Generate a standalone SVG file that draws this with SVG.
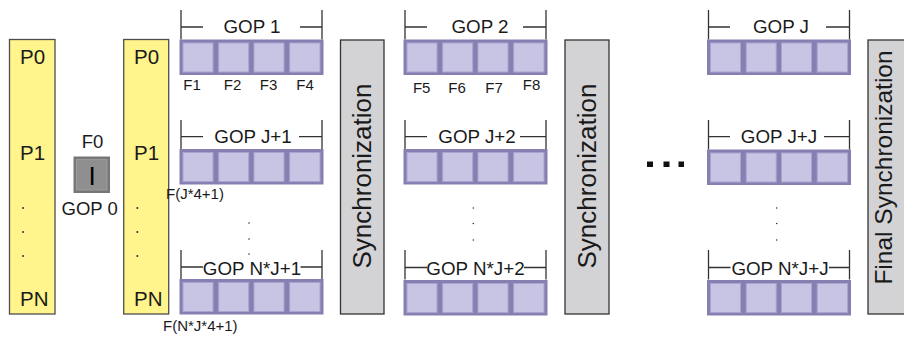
<svg xmlns="http://www.w3.org/2000/svg" width="904" height="339" viewBox="0 0 904 339">
  <style>
    text { font-family: "Liberation Sans", Arial, sans-serif; fill: #1a1a1a; }
    .proc { fill: #fff58c; stroke: #4d4d4d; stroke-width: 1.3; }
    .sync { fill: #d3d3d5; stroke: #333; stroke-width: 1.3; }
    .strip { fill: #867fb2; }
    .cell { fill: #c8c4e3; stroke: #a9a3cf; stroke-width: 1; }
    .brk { stroke: #333; stroke-width: 1.3; fill: none; }
    .lbl { font-size: 18.8px; text-anchor: middle; }
    .p { font-size: 20.5px; }
    .g0 { font-size: 18.5px; text-anchor: middle; }
    .f { font-size: 15px; text-anchor: middle; }
    .fs { font-size: 15px; }
    .syn { font-size: 26px; text-anchor: middle; }
    .dot { fill: #333; }
  </style>
  <defs>
    <!-- one GOP: a strip of four frames -->
    <g id="gop">
      <rect class="strip" x="0" y="0" width="144" height="35.5"/>
      <rect class="cell" x="3.5" y="3.5" width="30" height="29"/>
      <rect class="cell" x="39.2" y="3.5" width="30" height="29"/>
      <rect class="cell" x="74.5" y="3.5" width="30" height="29"/>
      <rect class="cell" x="110.2" y="3.5" width="30.3" height="29"/>
    </g>
  </defs>

  <!-- processor columns -->
  <g id="procs-left">
    <rect class="proc" x="9.5" y="39.5" width="45.5" height="274.5"/>
    <text class="p" x="20" y="64">P0</text>
    <text class="p" x="20" y="160">P1</text>
    <circle class="dot" cx="23" cy="208" r="1"/>
    <circle class="dot" cx="23" cy="232" r="1"/>
    <circle class="dot" cx="23" cy="256" r="1"/>
    <text class="p" x="20" y="306">PN</text>
  </g>
  <g id="procs-right">
    <rect class="proc" x="123.7" y="39.5" width="45" height="274.5"/>
    <text class="p" x="134" y="64">P0</text>
    <text class="p" x="134" y="160">P1</text>
    <circle class="dot" cx="137.3" cy="208" r="1"/>
    <circle class="dot" cx="137.3" cy="232" r="1"/>
    <circle class="dot" cx="137.3" cy="256" r="1"/>
    <text class="p" x="134" y="306">PN</text>
  </g>

  <!-- GOP 0: the I frame -->
  <g id="gop0">
    <text class="g0" x="92.5" y="148">F0</text>
    <rect x="73.5" y="156.5" width="36.5" height="36.5" fill="#777"/>
    <rect x="76.5" y="159.5" width="30.5" height="30.5" fill="#8f8f8f" stroke="#9c9c9c" stroke-width="1"/>
    <text x="92" y="185" font-size="26" text-anchor="middle" style="fill:#000">I</text>
    <text class="g0" x="89.7" y="215">GOP 0</text>
  </g>

  <!-- column 1 -->
  <g id="gop1">
    <path class="brk" d="M181 10V39.5M322 10V39.5M181 27H203M300 27H322"/>
    <text class="lbl" x="252" y="33.3">GOP 1</text>
    <use href="#gop" x="179.5" y="39.5"/>
    <text class="f" x="192" y="90">F1</text>
    <text class="f" x="232.5" y="90">F2</text>
    <text class="f" x="268.5" y="90">F3</text>
    <text class="f" x="305" y="90">F4</text>
  </g>
  <g id="gopJ1">
    <path class="brk" d="M181 120V149.5M322 120V149.5M181 136.7H203M299 136.7H322"/>
    <text class="lbl" x="253" y="143.3">GOP J+1</text>
    <use href="#gop" x="179.5" y="149"/>
    <text class="fs" x="166" y="198.5">F(J*4+1)</text>
  </g>
  <g id="dots1">
    <circle class="dot" cx="249" cy="223" r="0.8"/>
    <circle class="dot" cx="249" cy="239" r="0.8"/>
    <circle class="dot" cx="249" cy="254" r="0.8"/>
  </g>
  <g id="gopNJ1">
    <path class="brk" d="M181 250V279.5M322 250V279.5M181 267H203M300.5 267H322"/>
    <text class="lbl" x="252" y="275">GOP N*J+1</text>
    <use href="#gop" x="179.5" y="279"/>
    <text class="fs" x="163" y="330.5">F(N*J*4+1)</text>
  </g>

  <!-- first synchronization -->
  <g id="sync1">
    <rect class="sync" x="340.5" y="40" width="43.5" height="274"/>
    <text class="syn" transform="translate(371 176) rotate(-90)">Synchronization</text>
  </g>

  <!-- column 2 -->
  <g id="gop2">
    <path class="brk" d="M405 10V39.5M546 10V39.5M405 27H427M523 27H546"/>
    <text class="lbl" x="480" y="33.3">GOP 2</text>
    <use href="#gop" x="403.5" y="39.5"/>
    <text class="f" x="421.7" y="93">F5</text>
    <text class="f" x="457" y="93">F6</text>
    <text class="f" x="494" y="93">F7</text>
    <text class="f" x="531.5" y="90">F8</text>
  </g>
  <g id="gopJ2">
    <path class="brk" d="M405 120V149.5M546 120V149.5M405 136.7H427M520 136.7H546"/>
    <text class="lbl" x="477" y="143.3">GOP J+2</text>
    <use href="#gop" x="403.5" y="149"/>
  </g>
  <g id="dots2">
    <circle class="dot" cx="473.3" cy="208" r="0.8"/>
    <circle class="dot" cx="473.3" cy="223.5" r="0.8"/>
    <circle class="dot" cx="473.3" cy="240" r="0.8"/>
  </g>
  <g id="gopNJ2">
    <path class="brk" d="M405 250V279.5M546 250V279.5M405 267.5H427M524 267.5H546"/>
    <text class="lbl" x="475.5" y="275">GOP N*J+2</text>
    <use href="#gop" x="403.5" y="280"/>
  </g>

  <!-- second synchronization -->
  <g id="sync2">
    <rect class="sync" x="565" y="40" width="44" height="274"/>
    <text class="syn" transform="translate(596 176) rotate(-90)">Synchronization</text>
  </g>

  <!-- ellipsis between columns -->
  <g id="ellipsis">
    <rect x="647" y="161.5" width="6" height="5.5" fill="#111"/>
    <rect x="663.5" y="161.5" width="6" height="5.5" fill="#111"/>
    <rect x="678.5" y="161.5" width="5.5" height="5.5" fill="#111"/>
  </g>

  <!-- column J -->
  <g id="gopJ">
    <path class="brk" d="M708.5 10V39.5M849.5 10V39.5M708.5 27H730M826 27H849.5"/>
    <text class="lbl" x="781" y="33.3">GOP J</text>
    <use href="#gop" x="707" y="39.5"/>
  </g>
  <g id="gopJJ">
    <path class="brk" d="M708.5 120V149.5M849.5 120V149.5M708.5 136.7H730M824 136.7H849.5"/>
    <text class="lbl" x="779" y="143.3">GOP J+J</text>
    <use href="#gop" x="707" y="149.5"/>
  </g>
  <g id="dotsJ">
    <circle class="dot" cx="776.7" cy="208" r="0.8"/>
    <circle class="dot" cx="776.7" cy="223.5" r="0.8"/>
    <circle class="dot" cx="776.7" cy="240" r="0.8"/>
  </g>
  <g id="gopNJJ">
    <path class="brk" d="M708.5 250V279.5M849.5 250V279.5M708.5 267.5H730.5M829 267.5H849.5"/>
    <text class="lbl" x="780" y="275">GOP N*J+J</text>
    <use href="#gop" x="707" y="280"/>
  </g>

  <!-- final synchronization -->
  <g id="sync-final">
    <rect class="sync" x="868" y="40" width="40" height="274"/>
    <text class="syn" style="font-size:24.5px" transform="translate(891.5 167.5) rotate(-90)">Final Synchronization</text>
  </g>
</svg>
